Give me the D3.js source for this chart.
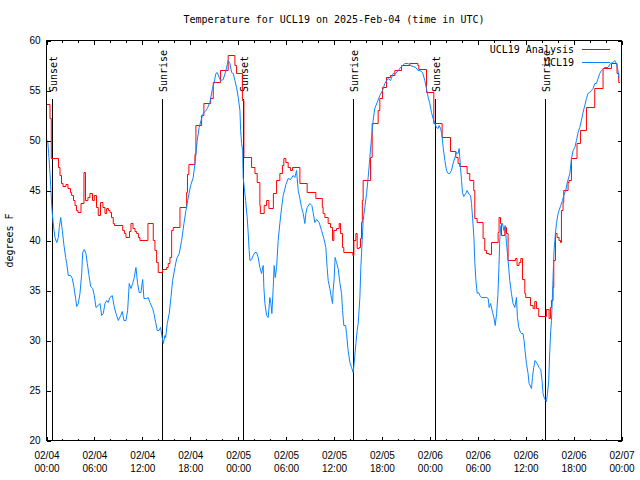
<!DOCTYPE html>
<html>
<head>
<meta charset="utf-8">
<script src="https://cdn.jsdelivr.net/npm/d3@7"></script>
<style>
  html, body { margin: 0; padding: 0; background: #fff; }
  svg { display: block; font-family: "DejaVu Sans Mono", "Liberation Mono", monospace; font-size: 10px; }
</style>
</head>
<body>
<svg id="chart" width="640" height="480"></svg>
<script>
// ---------------- DATA ----------------
const chartTitle = "Temperature for UCL19 on 2025-Feb-04 (time in UTC)";
const yAxisLabel = "degrees F";
const seriesNames = ["UCL19 Analysis", "UCL19"];
const startDateUTC = [2025, 1, 4];   // 2025-Feb-04 00:00 UTC
const spanHours = 72;
const yTickValues = [20, 25, 30, 35, 40, 45, 50, 55, 60];

// "UCL19 Analysis" (red): hours since start, value (stepped)
const redHours = [0, 0.44, 0.60, 1.50, 1.69, 1.88, 2.07, 2.44, 2.69, 3.0, 3.15, 3.38, 3.57, 3.75, 3.94, 4.32, 4.69, 4.88, 5.19, 5.44, 5.76, 5.98, 6.26, 6.48, 6.76, 7.07, 7.32, 7.53, 7.76, 7.95, 8.14, 8.36, 8.51, 9.54, 9.76, 9.95, 10.39, 10.58, 10.83, 11.08, 11.29, 11.51, 11.70, 12.70, 13.37, 13.58, 13.79, 13.99, 14.52, 15.04, 15.24, 15.46, 15.67, 15.87, 16.71, 17.55, 17.65, 17.83, 18.59, 18.71, 19.42, 19.71, 20.55, 20.88, 21.78, 22.75, 23.59, 23.80, 24.53, 24.72, 25.68, 26.10, 26.38, 26.72, 26.78, 27.26, 27.56, 27.85, 28.41, 28.81, 29.22, 29.54, 29.72, 29.97, 30.26, 30.56, 30.81, 31.73, 32.64, 33.73, 34.54, 34.64, 34.86, 35.27, 35.57, 35.82, 35.98, 36.32, 36.65, 36.82, 37.07, 37.23, 38.36, 38.49, 38.74, 38.90, 39.15, 39.32, 39.45, 39.55, 39.65, 40.58, 40.78, 41.53, 41.74, 42.08, 42.58, 43.08, 43.62, 44.46, 45.49, 46.50, 46.62, 47.58, 48.50, 49.54, 50.59, 51.25, 51.54, 51.75, 52.67, 53.00, 53.50, 53.63, 53.92, 54.67, 54.88, 55.09, 55.42, 55.72, 56.55, 56.67, 56.85, 56.97, 57.39, 57.60, 57.80, 58.72, 58.92, 59.17, 59.39, 59.60, 59.89, 60.01, 60.60, 60.93, 61.14, 61.35, 61.64, 62.60, 62.93, 63.10, 63.23, 63.43, 63.52, 63.73, 63.93, 64.18, 64.36, 64.48, 64.68, 64.77, 65.31, 65.43, 65.73, 66.43, 66.86, 67.61, 68.65, 69.69, 70.74, 71.44, 71.65, 71.80];
const redTemps = [53.6, 52.2, 48.2, 47.3, 46.5, 45.7, 45.4, 45.6, 45.2, 44.8, 44.5, 44.0, 43.5, 43.0, 42.8, 43.7, 46.8, 44.0, 44.3, 44.7, 44.0, 44.5, 43.3, 42.5, 43.8, 43.3, 42.7, 43.2, 43.0, 42.8, 42.3, 41.7, 41.5, 41.0, 40.7, 40.3, 40.9, 41.7, 41.2, 40.9, 40.7, 40.3, 40.0, 41.7, 40.0, 39.0, 37.8, 36.8, 37.1, 37.3, 37.7, 38.3, 41.0, 41.3, 43.3, 44.8, 46.6, 47.6, 48.6, 51.5, 52.5, 53.7, 54.2, 55.8, 57.0, 58.5, 57.5, 56.7, 54.0, 48.3, 47.3, 46.7, 45.8, 43.5, 42.7, 43.5, 44.0, 43.2, 44.7, 46.0, 46.7, 47.5, 48.2, 47.8, 47.3, 47.0, 47.3, 45.7, 44.8, 44.2, 43.3, 42.7, 42.3, 41.7, 41.3, 40.0, 41.0, 41.2, 41.7, 40.7, 39.3, 38.8, 38.5, 40.0, 40.7, 39.2, 39.3, 40.2, 41.8, 44.0, 46.0, 48.3, 51.7, 53.0, 54.2, 55.3, 56.3, 56.5, 57.0, 57.5, 57.7, 57.5, 57.1, 54.8, 51.7, 50.3, 48.9, 48.3, 47.7, 47.4, 46.7, 46.0, 45.0, 42.2, 41.8, 40.2, 39.0, 38.7, 38.6, 39.8, 40.8, 42.3, 41.7, 40.5, 41.3, 40.7, 38.0, 38.2, 37.5, 37.8, 38.2, 36.1, 34.7, 34.3, 33.5, 33.2, 33.9, 33.2, 32.4, 33.1, 32.2, 33.3, 34.0, 35.3, 38.0, 40.7, 40.3, 40.0, 39.8, 43.0, 43.8, 45.0, 45.8, 46.0, 48.2, 49.7, 51.0, 53.3, 55.2, 57.2, 57.7, 56.7, 55.8, 55.8];

// "UCL19" (blue): hours since start, value
const blueHours = [0.15, 0.31, 0.44, 0.56, 0.65, 0.78, 0.94, 1.06, 1.28, 1.48, 1.60, 1.78, 1.98, 2.19, 2.40, 2.53, 2.73, 3.03, 3.23, 3.44, 3.65, 3.78, 3.98, 4.19, 4.41, 4.53, 4.73, 4.94, 5.11, 5.32, 5.53, 5.78, 5.98, 6.20, 6.48, 6.70, 6.91, 7.11, 7.32, 7.53, 7.73, 7.95, 8.24, 8.45, 8.70, 8.99, 9.29, 9.49, 9.70, 9.95, 10.16, 10.36, 10.58, 10.79, 10.99, 11.20, 11.41, 11.61, 11.83, 12.04, 12.20, 12.54, 12.74, 12.95, 13.29, 13.45, 13.67, 13.87, 14.08, 14.29, 14.49, 14.62, 14.83, 14.92, 15.12, 15.37, 15.58, 15.79, 16.08, 16.30, 16.62, 16.92, 17.21, 17.46, 17.75, 18.05, 18.37, 18.59, 18.87, 19.12, 19.42, 19.62, 19.96, 20.13, 20.46, 20.78, 20.96, 21.21, 21.38, 21.63, 21.80, 22.13, 22.47, 22.75, 22.97, 23.18, 23.38, 23.59, 23.80, 24.01, 24.22, 24.31, 24.43, 24.56, 24.63, 24.76, 24.93, 25.13, 25.26, 25.38, 25.47, 25.68, 25.88, 26.10, 26.31, 26.51, 26.72, 26.93, 27.13, 27.22, 27.35, 27.56, 27.76, 27.97, 28.10, 28.22, 28.39, 28.51, 28.64, 28.81, 29.01, 29.22, 29.44, 29.64, 29.98, 30.26, 30.56, 30.89, 31.10, 31.31, 31.52, 31.73, 31.94, 32.14, 32.35, 32.48, 32.64, 32.98, 33.23, 33.39, 33.60, 33.82, 34.14, 34.44, 34.73, 34.98, 35.14, 35.27, 35.48, 35.69, 35.82, 35.89, 36.02, 36.14, 36.32, 36.52, 36.73, 36.95, 37.07, 37.23, 37.45, 37.57, 37.77, 37.99, 38.20, 38.40, 38.52, 38.74, 38.90, 39.03, 39.24, 39.36, 39.53, 39.65, 39.86, 40.08, 40.28, 40.49, 40.70, 40.90, 41.11, 41.40, 41.74, 42.08, 42.36, 42.78, 43.08, 43.41, 43.74, 44.03, 44.46, 44.87, 45.28, 45.58, 45.91, 46.25, 46.53, 46.75, 47.09, 47.37, 47.58, 47.79, 48.00, 48.21, 48.41, 48.62, 48.84, 49.04, 49.16, 49.34, 49.50, 49.67, 49.88, 50.09, 50.29, 50.50, 50.71, 50.92, 51.13, 51.34, 51.54, 51.67, 51.84, 51.97, 52.09, 52.25, 52.50, 52.67, 52.92, 53.10, 53.22, 53.35, 53.52, 53.64, 53.77, 53.93, 54.11, 54.27, 54.48, 55.10, 55.31, 55.43, 55.61, 55.86, 56.02, 56.19, 56.36, 56.52, 56.65, 56.77, 56.90, 57.10, 57.27, 57.43, 57.60, 57.80, 58.01, 58.22, 58.42, 58.64, 58.85, 58.97, 59.14, 59.35, 59.47, 59.67, 59.80, 59.89, 60.10, 60.30, 60.43, 60.73, 60.85, 61.01, 61.18, 61.43, 61.68, 61.89, 62.05, 62.18, 62.35, 62.60, 62.73, 62.89, 63.02, 63.14, 63.23, 63.30, 63.43, 63.55, 63.73, 63.85, 64.06, 64.18, 64.39, 64.61, 64.77, 65.02, 65.18, 65.53, 65.74, 65.94, 66.15, 66.36, 66.56, 66.77, 66.98, 67.19, 67.40, 67.61, 67.81, 68.02, 68.23, 68.44, 68.65, 68.86, 69.07, 69.27, 69.49, 69.90, 70.31, 70.61, 70.94, 71.15, 71.36, 71.56, 71.69];
const blueTemps = [50.0, 48.3, 46.7, 45.0, 43.5, 42.2, 41.0, 40.3, 39.8, 40.3, 41.3, 42.3, 41.0, 39.5, 38.3, 37.7, 36.5, 36.5, 36.2, 35.3, 34.2, 33.4, 33.7, 34.7, 36.7, 38.8, 39.1, 38.7, 37.7, 36.5, 35.4, 35.2, 34.5, 33.3, 33.5, 33.7, 32.5, 32.7, 33.7, 34.0, 33.8, 34.3, 34.5, 33.5, 32.7, 32.0, 32.5, 32.9, 32.0, 32.0, 33.0, 35.7, 35.2, 35.7, 36.3, 37.3, 35.7, 34.8, 34.8, 36.1, 34.2, 34.2, 34.3, 33.8, 33.2, 32.7, 31.8, 31.0, 31.0, 31.3, 30.3, 29.7, 30.5, 30.3, 31.7, 32.7, 34.3, 36.0, 37.3, 38.2, 38.7, 40.0, 41.7, 43.0, 44.3, 45.5, 46.3, 47.7, 50.0, 51.3, 52.2, 52.7, 53.0, 53.2, 53.8, 55.2, 55.7, 56.7, 56.8, 56.3, 56.0, 56.1, 57.0, 58.0, 57.7, 56.8, 56.7, 56.0, 55.3, 54.3, 53.0, 51.0, 49.7, 49.0, 46.3, 45.3, 44.0, 42.3, 40.7, 39.0, 38.0, 38.1, 38.5, 38.8, 38.8, 38.3, 37.3, 36.7, 37.5, 35.3, 33.7, 32.5, 32.3, 34.3, 33.7, 32.7, 35.3, 37.5, 36.3, 37.3, 40.0, 41.7, 43.3, 44.5, 45.6, 46.2, 46.1, 46.5, 46.3, 47.0, 45.0, 44.2, 43.3, 42.7, 41.7, 42.7, 43.3, 43.7, 43.5, 42.8, 41.8, 42.1, 41.8, 41.0, 40.2, 39.3, 37.3, 36.0, 35.2, 34.2, 33.7, 35.0, 36.2, 38.3, 37.8, 37.2, 35.8, 34.7, 33.0, 31.5, 31.5, 30.7, 29.0, 27.8, 27.3, 26.8, 27.7, 29.7, 31.0, 31.7, 34.3, 37.3, 40.0, 42.0, 43.3, 44.7, 46.3, 48.3, 50.3, 52.0, 53.2, 53.8, 54.5, 55.0, 55.7, 56.2, 56.0, 56.7, 56.7, 57.0, 57.4, 57.7, 57.7, 57.5, 57.4, 57.3, 57.0, 57.0, 56.8, 56.0, 55.2, 54.3, 53.7, 52.8, 52.2, 51.7, 51.3, 51.2, 51.5, 51.2, 50.7, 49.3, 48.0, 47.0, 46.7, 46.7, 47.0, 47.7, 48.3, 48.8, 48.7, 49.2, 47.3, 46.0, 44.8, 44.4, 44.7, 45.0, 44.6, 44.5, 43.7, 42.3, 40.3, 37.7, 36.0, 34.7, 34.8, 34.5, 34.3, 34.3, 34.2, 33.3, 33.7, 32.8, 32.3, 31.5, 32.7, 34.5, 37.3, 40.3, 41.5, 41.7, 41.0, 41.5, 39.7, 38.0, 36.0, 34.7, 33.7, 33.3, 34.3, 32.3, 31.3, 30.8, 30.7, 30.7, 30.0, 29.2, 27.7, 26.7, 25.7, 25.2, 26.3, 27.3, 28.0, 27.7, 27.3, 27.1, 26.0, 24.7, 24.2, 23.9, 24.7, 26.0, 29.0, 31.0, 32.0, 33.3, 36.3, 39.0, 40.7, 41.7, 42.7, 43.0, 43.5, 44.0, 44.5, 45.0, 45.7, 46.7, 48.2, 49.0, 49.3, 50.0, 50.8, 51.3, 52.0, 52.8, 53.5, 54.2, 54.7, 54.8, 55.0, 55.2, 55.7, 55.7, 56.2, 56.7, 57.0, 57.3, 57.3, 57.7, 57.8, 58.0, 57.7, 57.0, 56.3];

// Sunset / sunrise markers: hours since start
const sunEventHours = [0.73, 14.49, 24.63, 38.40, 48.66, 62.43];
const sunEventLabels = ["Sunset", "Sunrise", "Sunset", "Sunrise", "Sunset", "Sunrise"];

// ---------------- LAYOUT ----------------
const W = 640, H = 480;
const plot = { left: 46.5, right: 621.5, top: 40.5, bottom: 440.5 };
const redColor = "#ff0000";
const blueColor = "#0a84ff";
const sunLineTopY = 99;
const sunLabelBottomY = 92;

const t0 = Date.UTC(...startDateUTC);
const toDate = h => new Date(t0 + h * 3600 * 1000);

const svg = d3.select("#chart");

const x = d3.scaleUtc()
  .domain([toDate(0), toDate(spanHours)])
  .range([plot.left, plot.right]);
const y = d3.scaleLinear()
  .domain([20, 60])
  .range([plot.bottom, plot.top]);

// Title
svg.append("text")
  .attr("x", (plot.left + plot.right) / 2)
  .attr("y", 23)
  .attr("text-anchor", "middle")
  .attr("fill", "#000")
  .text(chartTitle);

// Y label
svg.append("text")
  .attr("transform", `translate(13,${(plot.top + plot.bottom) / 2}) rotate(-90)`)
  .attr("text-anchor", "middle")
  .attr("fill", "#000")
  .text(yAxisLabel);

// Sun event vertical lines + labels
const sunG = svg.append("g");
sunEventHours.forEach((h, i) => {
  const sx = Math.round(x(toDate(h))) + 0.5;
  sunG.append("line")
    .attr("x1", sx).attr("x2", sx)
    .attr("y1", sunLineTopY).attr("y2", plot.bottom)
    .attr("stroke", "#000").attr("stroke-width", 1)
    .attr("shape-rendering", "crispEdges");
  sunG.append("text")
    .attr("transform", `translate(${sx + 4},${sunLabelBottomY}) rotate(-90)`)
    .attr("text-anchor", "start")
    .attr("fill", "#000")
    .text(sunEventLabels[i]);
});

// Series lines
const redData = redHours.map((h, i) => ({ t: toDate(h), v: redTemps[i] }));
const blueData = blueHours.map((h, i) => ({ t: toDate(h), v: blueTemps[i] }));

const redLine = d3.line().x(d => x(d.t)).y(d => y(d.v)).curve(d3.curveStepAfter);
const blueLine = d3.line().x(d => x(d.t)).y(d => y(d.v));

svg.append("path")
  .datum(redData)
  .attr("d", redLine)
  .attr("fill", "none")
  .attr("stroke", redColor)
  .attr("stroke-width", 1);

svg.append("path")
  .datum(blueData)
  .attr("d", blueLine)
  .attr("fill", "none")
  .attr("stroke", blueColor)
  .attr("stroke-width", 1);

// Axes (ticks inward, gnuplot style)
const fmtDate = d3.utcFormat("%m/%d");
const fmtTime = d3.utcFormat("%H:%M");

function styleAxis(g) {
  g.select(".domain").remove();
  g.selectAll("line").attr("stroke", "#000").attr("shape-rendering", "crispEdges");
  g.selectAll("text").attr("fill", "#000").attr("font-family", null).attr("font-size", null);
}

// bottom minor
svg.append("g")
  .attr("transform", `translate(0,${plot.bottom})`)
  .call(d3.axisBottom(x).ticks(d3.utcHour.every(2)).tickSize(-2).tickFormat(""))
  .call(styleAxis);
// bottom major with labels
const xAxisG = svg.append("g")
  .attr("transform", `translate(0,${plot.bottom})`)
  .call(d3.axisBottom(x).ticks(d3.utcHour.every(6)).tickSize(-4).tickFormat(""))
  .call(styleAxis);
xAxisG.selectAll(".tick").each(function(d) {
  const t = d3.select(this).append("text")
    .attr("text-anchor", "middle")
    .attr("fill", "#000");
  t.append("tspan").attr("x", 0).attr("y", 18).text(fmtDate(d));
  t.append("tspan").attr("x", 0).attr("y", 31).text(fmtTime(d));
});
// top mirror
svg.append("g")
  .attr("transform", `translate(0,${plot.top})`)
  .call(d3.axisTop(x).ticks(d3.utcHour.every(2)).tickSize(-2).tickFormat(""))
  .call(styleAxis);
svg.append("g")
  .attr("transform", `translate(0,${plot.top})`)
  .call(d3.axisTop(x).ticks(d3.utcHour.every(6)).tickSize(-4).tickFormat(""))
  .call(styleAxis);
// left
svg.append("g")
  .attr("transform", `translate(${plot.left},0)`)
  .call(d3.axisLeft(y).tickValues(yTickValues).tickSize(-4).tickPadding(6).tickFormat(d3.format("d")))
  .call(styleAxis);
// right mirror
svg.append("g")
  .attr("transform", `translate(${plot.right},0)`)
  .call(d3.axisRight(y).tickValues(yTickValues).tickSize(-4).tickFormat(""))
  .call(styleAxis);

// Border
svg.append("rect")
  .attr("x", plot.left).attr("y", plot.top)
  .attr("width", plot.right - plot.left)
  .attr("height", plot.bottom - plot.top)
  .attr("fill", "none").attr("stroke", "#000")
  .attr("shape-rendering", "crispEdges");

// Legend
const legendItems = [
  { name: seriesNames[0], color: redColor, y: 49.5 },
  { name: seriesNames[1], color: blueColor, y: 62.5 }
];
const legG = svg.append("g");
legendItems.forEach(it => {
  legG.append("text")
    .attr("x", 574).attr("y", it.y + 3.5)
    .attr("text-anchor", "end")
    .attr("fill", "#000")
    .text(it.name);
  legG.append("line")
    .attr("x1", 582).attr("x2", 610)
    .attr("y1", it.y).attr("y2", it.y)
    .attr("stroke", it.color).attr("stroke-width", 1)
    .attr("shape-rendering", "crispEdges");
});
</script>
</body>
</html>
